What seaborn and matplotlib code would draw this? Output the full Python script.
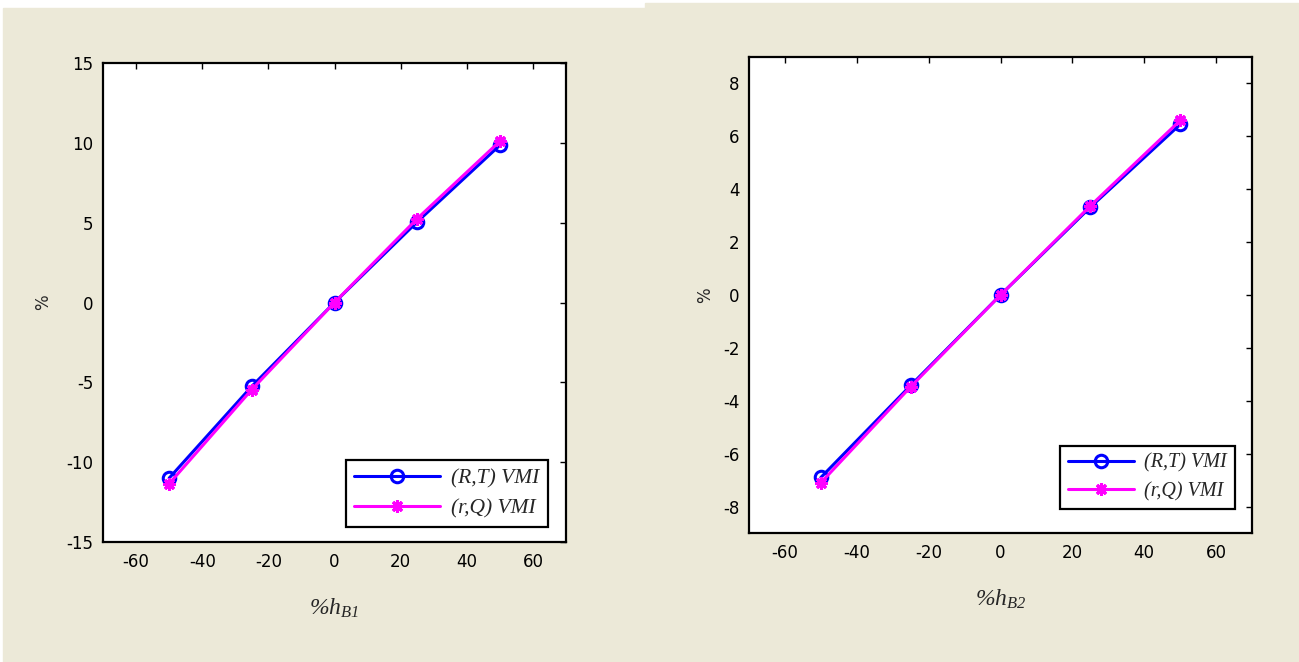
import numpy as np
import pandas as pd
import matplotlib
matplotlib.use("Agg")
import matplotlib.pyplot as plt
from matplotlib.patches import Rectangle
import seaborn as sns

# ---- data ----
h_change = [-50, -25, 0, 25, 50]
rt_vmi_b1 = [-11.0, -5.25, 0.0, 5.05, 9.85]
rq_vmi_b1 = [-11.35, -5.45, 0.0, 5.25, 10.1]
rt_vmi_b2 = [-6.9, -3.42, 0.0, 3.32, 6.45]
rq_vmi_b2 = [-7.1, -3.47, 0.0, 3.37, 6.6]
series_names = ["(R,T) VMI", "(r,Q) VMI"]
xticks = [-60, -40, -20, 0, 20, 40, 60]
yticks_b1 = [-15, -10, -5, 0, 5, 10, 15]
yticks_b2 = [-8, -6, -4, -2, 0, 2, 4, 6, 8]

sns.set_style("white")
plt.rcParams["font.family"] = ["DejaVu Sans"]
plt.rcParams["axes.unicode_minus"] = False
plt.rcParams["mathtext.fontset"] = "custom"
plt.rcParams["mathtext.rm"] = "Liberation Serif:italic"
plt.rcParams["mathtext.it"] = "Liberation Serif:italic"
plt.rcParams["mathtext.default"] = "it"

BG = "#ECE9D8"
BLUE = "#0000FF"
MAGENTA = "#FF00FF"

fig = plt.figure(figsize=(12.99, 6.62), dpi=100, facecolor="white")
W, H = 1299, 662
fig.patches.append(Rectangle((3 / W, 0), (645 - 3) / W, (H - 8) / H,
                             transform=fig.transFigure, color=BG, zorder=-10))
fig.patches.append(Rectangle((645 / W, 0), (W - 645) / W, (H - 3) / H,
                             transform=fig.transFigure, color=BG, zorder=-10))


def px_axes(l, t, r, b):
    return fig.add_axes([l / W, 1 - b / H, (r - l) / W, (b - t) / H])


def draw_panel(ax, rt, rq, ylim, yticks, xlabel, leg_anchor, leg_size,
               handle_len, ylabel_x, xlabel_y):
    df = pd.DataFrame({"h": h_change * 2,
                       "v": rt + rq,
                       "s": [series_names[0]] * 5 + [series_names[1]] * 5})
    sns.lineplot(data=df[df.s == series_names[0]], x="h", y="v", ax=ax,
                 color=BLUE, lw=2.2, marker="o", markersize=9,
                 markerfacecolor="none", markeredgecolor=BLUE, markeredgewidth=2.2,
                 label=series_names[0], zorder=3)
    sns.lineplot(data=df[df.s == series_names[1]], x="h", y="v", ax=ax,
                 color=MAGENTA, lw=2.2, marker=(8, 2, 0), markersize=9,
                 markerfacecolor=MAGENTA, markeredgecolor=MAGENTA, markeredgewidth=2.2,
                 label=series_names[1], zorder=4)
    ax.set_facecolor("white")
    ax.set_xlim(-70, 70)
    ax.set_ylim(*ylim)
    ax.set_xticks(xticks)
    ax.set_yticks(yticks)
    ax.tick_params(direction="in", length=4, width=1, top=True, right=True,
                   labelsize=12, pad=7, colors="black")
    ax.tick_params(axis="x", labeltop=False, pad=8)
    for sp in ax.spines.values():
        sp.set_visible(True)
        sp.set_color("black")
        sp.set_linewidth(1.6)
    ax.set_xlabel(xlabel, fontsize=17)
    ax.xaxis.set_label_coords(0.5, xlabel_y)
    ax.set_ylabel("%", fontsize=12)
    ax.yaxis.set_label_coords(ylabel_x, 0.5)
    leg = ax.legend(loc="lower right", bbox_to_anchor=leg_anchor, borderaxespad=0,
                    fancybox=False, framealpha=1, edgecolor="black",
                    handlelength=handle_len, handletextpad=0.5, borderpad=0.4,
                    labelspacing=0.45,
                    prop={"family": "Liberation Serif", "style": "italic", "size": leg_size})
    leg.get_frame().set_linewidth(1.6)


ax1 = px_axes(103, 63, 566, 542)
draw_panel(ax1, rt_vmi_b1, rq_vmi_b1, (-15, 15), yticks_b1, r"$\%h_{B1}$",
           (0.961, 0.031), 15.5, 4.0, -0.110, -0.113)

ax2 = px_axes(749, 57, 1252, 533)
draw_panel(ax2, rt_vmi_b2, rq_vmi_b2, (-9, 9), yticks_b2, r"$\%h_{B2}$",
           (0.966, 0.050), 14.5, 3.3, -0.0697, -0.113)

fig.savefig("out.png", dpi=100, facecolor=fig.get_facecolor())
